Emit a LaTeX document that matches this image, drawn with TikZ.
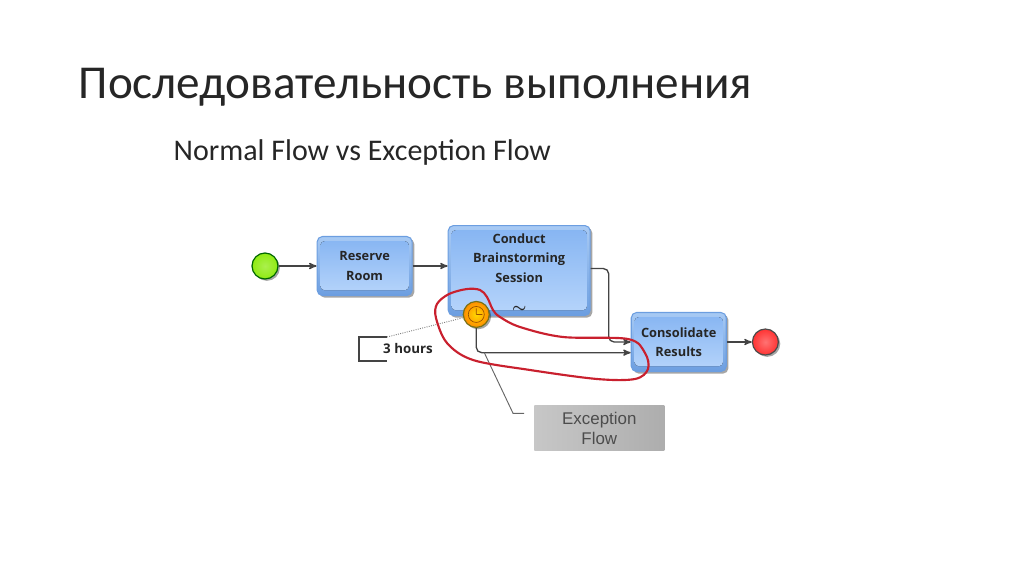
\documentclass[tikz,border=0pt]{standalone}
\usepackage{fontspec}
\setmainfont{Carlito}
\newfontfamily\diagfont{Open Sans}
\newfontfamily\notefont{Liberation Sans}
\usetikzlibrary{arrows,positioning,shadows}

\definecolor{flowgray}{HTML}{444444}
\definecolor{boxedge}{HTML}{6C9EE0}
\definecolor{boxlight}{HTML}{A8CAF4}
\definecolor{paneltop}{HTML}{85B4F2}
\definecolor{panelbottom}{HTML}{B7D5FB}
\definecolor{markred}{HTML}{C9202E}
\definecolor{startgreen}{HTML}{8FEB12}

\tikzset{
	task/.style={draw=boxedge,line width=.8pt,rounded corners=4pt,inner sep=0pt,align=center,
		top color=boxlight,bottom color=boxedge,
		drop shadow={shadow xshift=1.6pt,shadow yshift=-1.6pt,opacity=.35,fill=black},
		font=\diagfont\bfseries\fontsize{9.6}{14.5}\selectfont,text=black!85,
		path picture={\fill[rounded corners=3pt,top color=paneltop,bottom color=panelbottom]
			([xshift=2.5pt,yshift=-3.5pt]path picture bounding box.north west) rectangle
			([xshift=-2.5pt,yshift=4pt]path picture bounding box.south east);}},
	ball/.style={circle,line width=.9pt,minimum size=19.5pt,inner sep=0pt,
		drop shadow={shadow xshift=1.4pt,shadow yshift=-1.4pt,opacity=.35,fill=black}},
	flow/.style={->,>=stealth',draw=flowgray,line width=1pt,rounded corners=4pt},
}

\begin{document}
\begin{tikzpicture}[x=.75pt,y=-.75pt]
	\useasboundingbox (0,0) rectangle (1024,574);
	\node[anchor=west,font=\fontsize{35.4}{42}\selectfont,text=black!85](title) at (74,87){Последовательность выполнения};
	\node[anchor=west,font=\fontsize{22.5}{27}\selectfont,text=black!85](subtitle) at (169,153){Normal Flow vs Exception Flow};

	\node[ball,draw=green!40!black,inner color=startgreen!75!white,outer color=startgreen](start) at (265,266){};
	\node[task,minimum width=71.25pt,minimum height=44.25pt,right=28.5pt of start](reserve){Reserve\\Room};
	\node[task,minimum width=106.5pt,minimum height=67.5pt,right=26.25pt of reserve,yshift=-3.4pt](conduct){\rule{0pt}{11.5pt}Conduct\\Brainstorming\\Session\\[8.5pt]{\large\boldmath$\sim$}};
	\node[task,minimum width=71.25pt,minimum height=44.25pt,right=30pt of conduct,yshift=-53.6pt](consolidate){Consolidate\\Results};
	\node[ball,draw=black!70,inner color=red!55!white,outer color=red!80!white,right=18.75pt of consolidate](finish){};
	\node[ball,draw=olive!80!black,inner color=yellow!70!orange,outer color=orange!90!yellow,above right=-6pt and 14.25pt of conduct.south west](timer){};
	\draw[orange!60!black,line width=.5pt] (timer) circle (6pt) (timer.center) -- ++(0,-6) (timer.center) -- ++(6,0);

	\node[font=\diagfont\bfseries\fontsize{10}{12}\selectfont,text=black!85](hours) at (408,348){3 hours};
	\coordinate (notetop) at (387,337);
	\coordinate (notebottom) at (387,361);
	\draw[flowgray,line width=1pt] (notetop) -- (359,337) -- (359,361) -- (notebottom);
	\draw[gray,densely dotted,line width=.7pt] (notetop) -- (timer);

	\node[minimum width=97.5pt,minimum height=34pt,inner sep=0pt,align=center,anchor=north,below=25pt of consolidate.south,xshift=-59.6pt,
		left color=black!22,middle color=black!12,right color=black!32,text=black!70,
		font=\notefont\fontsize{12.7}{15}\selectfont](exception){Exception\\Flow};

	\coordinate (flowend) at ([yshift=-8pt]consolidate.west);
	\coordinate (assoc) at ([xshift=6pt]timer.south |- flowend);
	\draw[flow] (start) -- (reserve);
	\draw[flow] (reserve) -- (reserve -| conduct.west);
	\draw[flow] ([yshift=1.5pt]conduct.east) -| ([xshift=-16.5pt]consolidate.west) -- (consolidate.west);
	\draw[flow] (timer.south) |- (flowend);
	\draw[flow] (consolidate) -- (finish);
	\draw[gray!80!black,line width=.7pt,shorten >=7.5pt] (assoc) -- ([xshift=-15.75pt,yshift=11.25pt]exception.west) -- ([yshift=11.25pt]exception.west);

	% red hand drawn loop
	\draw[markred,line width=1.6pt,smooth cycle,tension=.55] plot coordinates {
		(493,310) (487,297) (480,290) (467,289) (449,294) (437,304) (436,318) (447,343)
		(473,360) (530,370) (597,379) (635,379) (648,369) (645,353) (628,339)
		(563,337) (520,327) (500,317)};
\end{tikzpicture}
\end{document}
